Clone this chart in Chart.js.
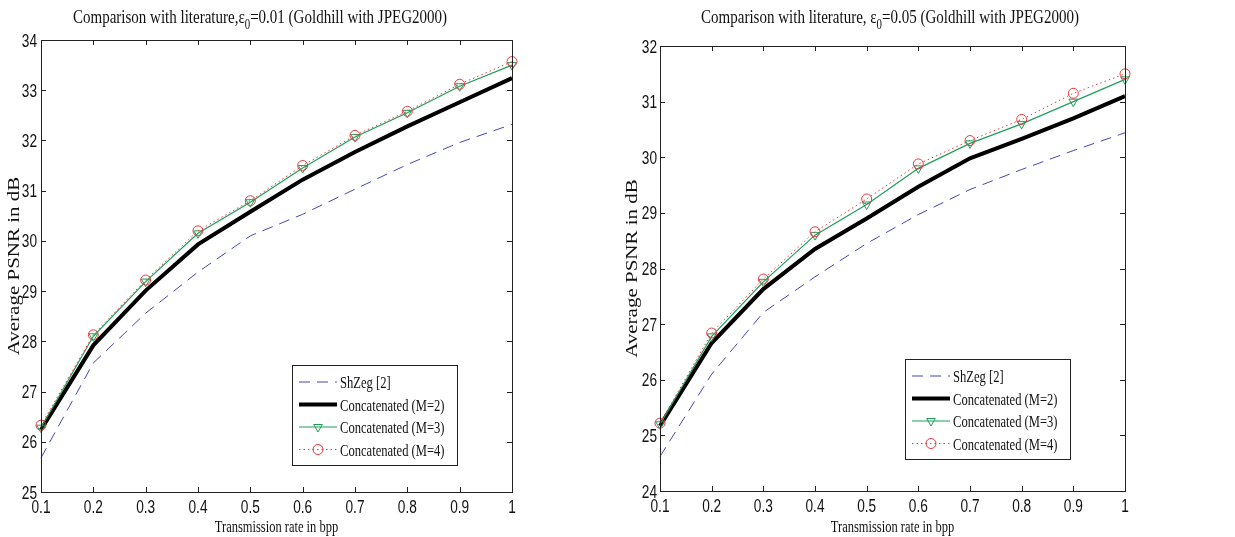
<!DOCTYPE html>
<html>
<head>
<meta charset="utf-8">
<script src="https://cdn.jsdelivr.net/npm/chart.js@4.4.1/dist/chart.umd.min.js"></script>
<style>
  body { margin: 0; background: #fff; }
  #left { position: absolute; left: 0; top: 0; }
  #right { position: absolute; left: 615px; top: 0; }
</style>
</head>
<body>
<canvas id="left" width="615" height="537"></canvas>
<canvas id="right" width="620" height="537"></canvas>
<script>
// x categories (bpp)
const rates = ['0.1', '0.2', '0.3', '0.4', '0.5', '0.6', '0.7', '0.8', '0.9', '1'];

// eps0 = 0.01
const shzegA = [25.68, 27.57, 28.56, 29.38, 30.1, 30.53, 31.03, 31.52, 31.96, 32.32];
const m2A = [26.24, 27.92, 29.01, 29.93, 30.58, 31.22, 31.77, 32.28, 32.76, 33.24];
const m3A = [26.28, 28.1, 29.19, 30.15, 30.77, 31.45, 32.07, 32.55, 33.08, 33.5];
const m4A = [26.33, 28.13, 29.22, 30.2, 30.8, 31.5, 32.1, 32.58, 33.12, 33.57];

// eps0 = 0.05
const shzegB = [24.62, 26.1, 27.21, 27.85, 28.45, 28.97, 29.42, 29.78, 30.12, 30.44];
const m2B = [25.17, 26.66, 27.63, 28.35, 28.9, 29.47, 29.98, 30.33, 30.7, 31.1];
const m3B = [25.2, 26.78, 27.76, 28.6, 29.15, 29.8, 30.25, 30.6, 31.0, 31.4];
const m4B = [25.22, 26.84, 27.81, 28.66, 29.25, 29.88, 30.3, 30.68, 31.15, 31.5];

const legendNames = ['ShZeg [2]', 'Concatenated (M=2)', 'Concatenated (M=3)', 'Concatenated (M=4)'];
const titleA = [['Comparison with literature,\u03b5', false], ['0', true], ['=0.01 (Goldhill with JPEG2000)', false]];
const titleB = [['Comparison with literature, \u03b5', false], ['0', true], ['=0.05 (Goldhill with JPEG2000)', false]];
const xTitle = 'Transmission rate in bpp';
const yTitle = 'Average PSNR in dB';

const sans = "'Liberation Sans', Arial, sans-serif";
const serif = "'Liberation Serif', 'Times New Roman', serif";
const ink = '#111';

// the original figure is squeezed sideways, so text is drawn narrowed
function drawText(ctx, text, x, y, font, sx, align, baseline) {
    ctx.save();
    ctx.translate(x, y);
    ctx.scale(sx, 1);
    ctx.font = font;
    ctx.textAlign = align;
    ctx.textBaseline = baseline;
    ctx.fillStyle = ink;
    ctx.fillText(text, 0, 0);
    ctx.restore();
}

function drawTitle(ctx, parts, cx, base, size, sx) {
    ctx.save();
    let w = 0;
    parts.forEach(p => {
        ctx.font = (p[1] ? size * 0.72 : size) + 'px ' + serif;
        w += ctx.measureText(p[0]).width;
    });
    let x = cx - w * sx / 2;
    parts.forEach(p => {
        const f = (p[1] ? size * 0.72 : size) + 'px ' + serif;
        ctx.font = f;
        const pw = ctx.measureText(p[0]).width;
        drawText(ctx, p[0], x, base + (p[1] ? size * 0.3 : 0), f, sx, 'left', 'alphabetic');
        x += pw * sx;
    });
    ctx.restore();
}

function makeDatasets(s, a, b, c) {
    return [
        { label: legendNames[0], data: s, borderColor: '#4646b4', borderWidth: 1, borderDash: [11, 7],
          pointRadius: 0, order: 3 },
        { label: legendNames[1], data: a, borderColor: '#000', borderWidth: 4, pointRadius: 0, order: 2 },
        { label: legendNames[2], data: b, borderColor: '#1f9e5a', borderWidth: 1.2, pointStyle: 'triangle',
          pointRotation: 180, pointRadius: 5, pointBorderWidth: 1, pointBorderColor: '#1f9e5a',
          pointBackgroundColor: 'rgba(0,0,0,0)', order: 1 },
        { label: legendNames[3], data: c, borderColor: '#e8383d', borderWidth: 1, borderDash: [1.5, 3],
          pointStyle: 'circle', pointRadius: 5, pointBorderWidth: 1, pointBorderColor: '#e8383d',
          pointBackgroundColor: 'rgba(0,0,0,0)', order: 0 }
    ];
}

// box, inward ticks, labels and legend inside the plot
const framePlugin = {
    id: 'frame',
    afterDatasetsDraw(chart) {
        const ctx = chart.ctx;
        const a = chart.chartArea;
        const xs = chart.scales.x, ys = chart.scales.y;
        const o = chart.options.plugins.frame;
        ctx.save();
        ctx.strokeStyle = '#222';
        ctx.lineWidth = 1;
        ctx.beginPath();
        xs.ticks.forEach((t, i) => {
            const px = Math.round(xs.getPixelForTick(i)) + 0.5;
            ctx.moveTo(px, a.bottom); ctx.lineTo(px, a.bottom - 5);
            ctx.moveTo(px, a.top); ctx.lineTo(px, a.top + 5);
        });
        ys.ticks.forEach((t, i) => {
            const py = Math.round(ys.getPixelForTick(i)) + 0.5;
            ctx.moveTo(a.left, py); ctx.lineTo(a.left + 5, py);
            ctx.moveTo(a.right, py); ctx.lineTo(a.right - 5, py);
        });
        ctx.stroke();
        ctx.strokeRect(Math.round(a.left) + 0.5, Math.round(a.top) + 0.5,
            Math.round(a.right - a.left), Math.round(a.bottom - a.top));

        // tick labels
        const tf = '18px ' + sans;
        xs.ticks.forEach((t, i) => {
            drawText(ctx, t.label, xs.getPixelForTick(i), a.bottom + 21, tf, 0.76, 'center', 'alphabetic');
        });
        ys.ticks.forEach((t, i) => {
            drawText(ctx, t.label, a.left - o.yPad, ys.getPixelForTick(i) + 6.5, tf, 0.76, 'right', 'alphabetic');
        });

        // titles
        drawTitle(ctx, o.title, o.titleX, 23, 19, 0.79);
        drawText(ctx, xTitle, (a.left + a.right) / 2, 532, '16px ' + serif, 0.78, 'center', 'alphabetic');
        ctx.save();
        ctx.translate(o.yTitleX, (a.top + a.bottom) / 2);
        ctx.rotate(-Math.PI / 2);
        ctx.scale(1, 0.82);
        ctx.font = '21px ' + serif;
        ctx.textAlign = 'center';
        ctx.textBaseline = 'middle';
        ctx.fillStyle = ink;
        ctx.fillText(yTitle, 0, 0);
        ctx.restore();

        // legend
        const bx = a.right - o.right - o.width, by = a.bottom - o.bottom - o.height;
        ctx.fillStyle = '#fff';
        ctx.fillRect(bx, by, o.width, o.height);
        ctx.strokeStyle = '#222';
        ctx.strokeRect(Math.round(bx) + 0.5, Math.round(by) + 0.5, o.width, o.height);
        chart.data.datasets.forEach((ds, i) => {
            const y = by + o.first + i * o.step;
            const x0 = bx + 7, x1 = bx + 45;
            ctx.save();
            ctx.strokeStyle = ds.borderColor;
            ctx.lineWidth = ds.borderWidth;
            ctx.setLineDash(ds.borderDash || []);
            ctx.beginPath();
            ctx.moveTo(x0, y); ctx.lineTo(x1, y);
            ctx.stroke();
            ctx.restore();
            if (ds.pointRadius) {
                ctx.save();
                ctx.strokeStyle = ds.pointBorderColor;
                ctx.fillStyle = ds.pointBackgroundColor;
                ctx.lineWidth = ds.pointBorderWidth;
                Chart.helpers.drawPoint(ctx, { pointStyle: ds.pointStyle, rotation: ds.pointRotation || 0,
                    radius: ds.pointRadius, borderWidth: ds.pointBorderWidth }, (x0 + x1) / 2, y);
                ctx.restore();
            }
            drawText(ctx, ds.label, x1 + 3, y + 6, '17px ' + serif, 0.74, 'left', 'alphabetic');
        });
        ctx.restore();
    }
};

function makeChart(id, cfg) {
    return new Chart(document.getElementById(id), {
        type: 'line',
        data: { labels: rates, datasets: makeDatasets(cfg.s, cfg.a, cfg.b, cfg.c) },
        options: {
            responsive: false,
            animation: false,
            events: [],
            elements: { line: { tension: 0 } },
            datasets: { line: { clip: false } },
            layout: { padding: { left: 0, top: cfg.top, right: cfg.padRight, bottom: 0 } },
            plugins: {
                legend: { display: false },
                tooltip: { enabled: false },
                title: { display: false },
                frame: { width: 165, height: 100, right: 55, bottom: cfg.legBottom, first: 17, step: 22.5,
                    title: cfg.title, titleX: cfg.titleX, yTitleX: cfg.yTitleX, yPad: cfg.yPad }
            },
            scales: {
                x: {
                    type: 'category',
                    offset: false,
                    grid: { display: false, drawTicks: false },
                    border: { display: false },
                    ticks: { display: false, autoSkip: false },
                    afterFit: s => { s.height = cfg.xHeight; }
                },
                y: {
                    min: cfg.yMin,
                    max: cfg.yMax,
                    grid: { display: false, drawTicks: false },
                    border: { display: false },
                    ticks: { display: false, stepSize: 1 },
                    afterFit: s => { s.width = cfg.yWidth; }
                }
            }
        },
        plugins: [framePlugin]
    });
}

makeChart('left', {
    s: shzegA, a: m2A, b: m3A, c: m4A,
    title: titleA, titleX: 260, yTitleX: 14, top: 40,
    padRight: 103, xHeight: 45, legBottom: 27,
    yMin: 25, yMax: 34, yPad: 4, yWidth: 41
});

makeChart('right', {
    s: shzegB, a: m2B, b: m3B, c: m4B,
    title: titleB, titleX: 275, yTitleX: 17, top: 46,
    padRight: 110, xHeight: 46, legBottom: 32,
    yMin: 24, yMax: 32, yPad: 3, yWidth: 45
});
</script>
</body>
</html>
